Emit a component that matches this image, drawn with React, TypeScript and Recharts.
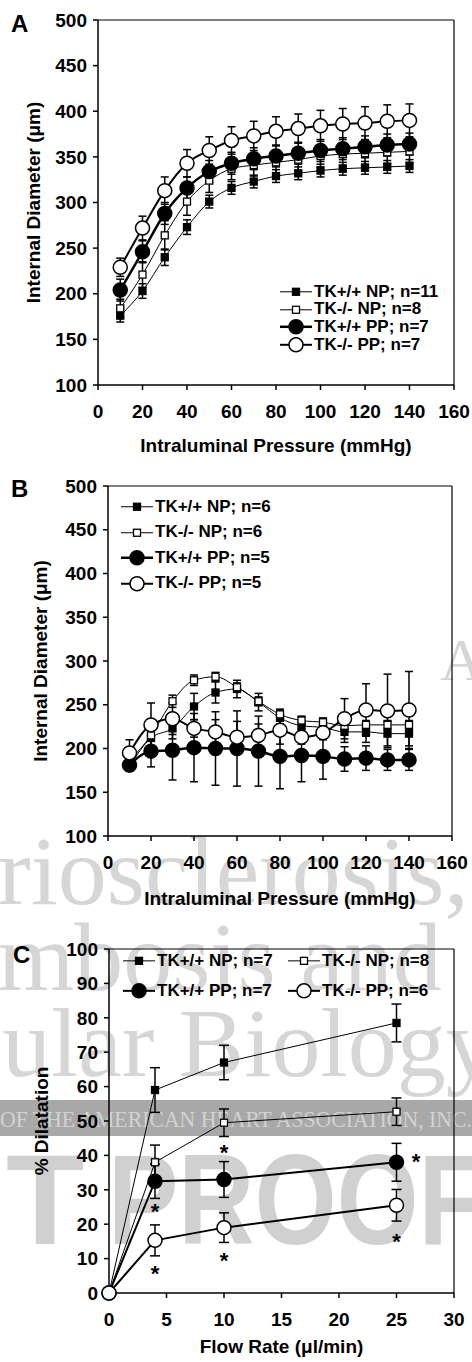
import React from "react";
import { ComposedChart, Line, XAxis, YAxis, ErrorBar, ReferenceLine, Legend, Scatter } from "recharts";

const FONT = '"Liberation Sans", Arial, Helvetica, sans-serif';
const SERIF = '"Liberation Serif", "DejaVu Serif", serif';

// series keys, in legend order: TK+/+ NP, TK-/- NP, TK+/+ PP, TK-/- PP
const keys = ["npWt", "npKo", "ppWt", "ppKo"];
type Mark = "fsq" | "osq" | "fci" | "oci";
const marks: Mark[] = ["fsq", "osq", "fci", "oci"];

// ---- Panel A ----
const pressureA = [10, 20, 30, 40, 50, 60, 70, 80, 90, 100, 110, 120, 130, 140];
const aNpWt = [176, 203, 240, 273, 301, 316, 323, 329, 332, 335, 337, 338, 339, 340];
const aNpWtErr = [7, 8, 9, 8, 7, 7, 7, 7, 7, 7, 7, 7, 7, 7];
const aNpKo = [184, 221, 264, 301, 324, 337, 341, 344, 347, 351, 353, 354, 355, 356];
const aNpKoErr = [10, 14, 16, 15, 13, 12, 12, 12, 12, 12, 12, 12, 12, 12];
const aPpWt = [204, 246, 288, 316, 334, 343, 348, 351, 354, 357, 359, 361, 363, 364];
const aPpWtErr = [12, 12, 12, 12, 12, 12, 12, 12, 12, 12, 12, 12, 12, 12];
const aPpKo = [229, 272, 313, 343, 357, 368, 373, 378, 381, 384, 386, 387, 389, 390];
const aPpKoErr = [10, 13, 15, 15, 15, 15, 16, 16, 16, 17, 17, 18, 18, 18];
const legendA = ["TK+/+ NP; n=11", "TK-/- NP; n=8", "TK+/+ PP; n=7", "TK-/- PP; n=7"];

// ---- Panel B ----
const pressureB = [10, 20, 30, 40, 50, 60, 70, 80, 90, 100, 110, 120, 130, 140];
const bNpWt = [180, 212, 223, 248, 264, 268, 253, 235, 226, 224, 219, 219, 217, 217];
const bNpWtErr = [6, 10, 12, 15, 12, 10, 10, 10, 10, 10, 12, 12, 14, 14];
const bNpKo = [186, 215, 254, 278, 282, 270, 254, 239, 232, 230, 226, 227, 227, 227];
const bNpKoErr = [6, 6, 7, 6, 5, 5, 5, 5, 5, 5, 5, 5, 5, 5];
const bPpWt = [181, 197, 198, 201, 200, 200, 197, 191, 192, 191, 188, 189, 187, 187];
const bPpWtErr = [6, 18, 34, 39, 42, 43, 40, 37, 30, 26, 14, 14, 12, 12];
const bPpKo = [195, 227, 234, 223, 219, 213, 215, 221, 213, 218, 234, 244, 243, 244];
const bPpKoErr = [15, 25, 18, 10, 14, 18, 13, 16, 8, 8, 23, 30, 42, 44];
const legendB = ["TK+/+ NP; n=6", "TK-/- NP; n=6", "TK+/+ PP; n=5", "TK-/- PP; n=5"];

const pressureTicks = [0, 20, 40, 60, 80, 100, 120, 140, 160];
const diameterTicks = [100, 150, 200, 250, 300, 350, 400, 450, 500];

// ---- Panel C ----
const flowC = [0, 4, 10, 25];
const cNpWt = [0, 59, 67, 78.5];
const cNpWtErr = [0, 6.5, 5, 5.5];
const cNpKo = [0, 38, 49.5, 52.7];
const cNpKoErr = [0, 5, 4, 4];
const cPpWt = [0, 32.5, 33, 38];
const cPpWtErr = [0, 5, 5.2, 5.5];
const cPpKo = [0, 15.3, 19, 25.5];
const cPpKoErr = [0, 4.5, 4.3, 4.6];
const legendC = ["TK+/+ NP; n=7", "TK-/- NP; n=8", "TK+/+ PP; n=7", "TK-/- PP; n=6"];
const starX = [4, 4, 10, 10, 26.7, 25];
const starY = [24.8, 6.6, 42, 10.5, 39.3, 16.1];

const flowTicks = [0, 5, 10, 15, 20, 25, 30];
const dilatationTicks = [0, 10, 20, 30, 40, 50, 60, 70, 80, 90, 100];

function buildRows(x: number[], series: number[][], errs: number[][]) {
  return x.map((v, i) => {
    const row: Record<string, number> = { x: v };
    keys.forEach((k, j) => {
      row[k] = series[j][i];
      row[k + "E"] = errs[j][i];
    });
    return row;
  });
}

const rowsA = buildRows(pressureA, [aNpWt, aNpKo, aPpWt, aPpKo], [aNpWtErr, aNpKoErr, aPpWtErr, aPpKoErr]);
const rowsB = buildRows(pressureB, [bNpWt, bNpKo, bPpWt, bPpKo], [bNpWtErr, bNpKoErr, bPpWtErr, bPpKoErr]);
const rowsC = buildRows(flowC, [cNpWt, cNpKo, cPpWt, cPpKo], [cNpWtErr, cNpKoErr, cPpWtErr, cPpKoErr]);
const starRows = starX.map((x, i) => ({ x, y: starY[i] }));

interface MarkStyle {
  sq: number;
  r: number;
  widths: number[];
  curve: "monotone" | "linear";
  cap: number;
}

function Marker({ cx, cy, mark, st }: { cx?: number; cy?: number; mark: Mark; st: MarkStyle }) {
  if (cx == null || cy == null) return null;
  if (mark === "fsq" || mark === "osq") {
    return (
      <rect x={cx - st.sq / 2} y={cy - st.sq / 2} width={st.sq} height={st.sq}
        fill={mark === "fsq" ? "#000" : "#fff"} stroke="#000" strokeWidth={1.3} />
    );
  }
  return <circle cx={cx} cy={cy} r={st.r} fill={mark === "fci" ? "#000" : "#fff"} stroke="#000" strokeWidth={1.5} />;
}

const tickStyle = { fill: "#000", fontSize: 19, fontWeight: 700, fontFamily: FONT };
const axisStroke = { stroke: "#000", strokeWidth: 1.5 };
const titleStyle = { fill: "#000", fontSize: 19, fontWeight: 700, fontFamily: FONT };

function makeLegend(st: MarkStyle, rowH: number, cols: string) {
  return (props: any) => {
    const payload = (props.payload || [])
      .filter((p: any) => keys.includes(p.dataKey))
      .sort((a: any, b: any) => keys.indexOf(a.dataKey) - keys.indexOf(b.dataKey));
    return (
      <div style={{ display: "grid", gridTemplateColumns: cols }}>
        {payload.map((p: any, i: number) => {
          const j = keys.indexOf(p.dataKey);
          return (
            <div key={i} style={{ display: "flex", alignItems: "center", height: rowH }}>
              <svg width={34} height={rowH} style={{ flex: "none" }}>
                <line x1={1} x2={33} y1={rowH / 2} y2={rowH / 2} stroke="#000" strokeWidth={st.widths[j]} />
                <Marker cx={17} cy={rowH / 2} mark={marks[j]} st={st} />
              </svg>
              <span style={{ fontFamily: FONT, fontWeight: 700, fontSize: 17, color: "#000", whiteSpace: "nowrap", marginLeft: 1 }}>
                {p.value}
              </span>
            </div>
          );
        })}
      </div>
    );
  };
}

interface PanelProps {
  top: number;
  height: number;
  margin: { top: number; right: number; bottom: number; left: number };
  xAxisHeight: number;
  rows: Record<string, number>[];
  names: string[];
  xDomain: [number, number];
  xTicks: number[];
  yDomain: [number, number];
  yTicks: number[];
  xTitle: string;
  yTitle: string;
  xTitleOffset: number;
  yTitleOffset: number;
  st: MarkStyle;
  legendPos: { left: number; top: number; width: number };
  legendRowH: number;
  legendCols: string;
  stars?: { x: number; y: number }[];
}

function Panel(p: PanelProps) {
  return (
    <div style={{ position: "absolute", left: 0, top: p.top }}>
      <ComposedChart width={472} height={p.height} data={p.rows} margin={p.margin}>
        <XAxis type="number" dataKey="x" domain={p.xDomain} ticks={p.xTicks} interval={0}
          height={p.xAxisHeight} tickSize={5} tickMargin={15}
          axisLine={axisStroke} tickLine={axisStroke} tick={tickStyle}
          label={{ value: p.xTitle, position: "insideBottom", offset: p.xTitleOffset, ...titleStyle }} />
        <YAxis type="number" domain={p.yDomain} ticks={p.yTicks} interval={0} width={60}
          tickSize={5} tickMargin={6} axisLine={axisStroke} tickLine={axisStroke} tick={tickStyle}
          label={{ value: p.yTitle, angle: -90, position: "insideLeft", offset: p.yTitleOffset, ...titleStyle, style: { textAnchor: "middle" } }} />
        <ReferenceLine y={p.yDomain[1]} stroke="#000" strokeWidth={1.2} />
        <ReferenceLine x={p.xDomain[1]} stroke="#000" strokeWidth={1.2} />
        {keys.map((k, j) => (
          <Line key={k} dataKey={k} name={p.names[j]} type={p.st.curve} stroke="#000"
            strokeWidth={p.st.widths[j]} activeDot={false} isAnimationActive={false}
            dot={(d: any) => <Marker key={`${k}-${d.index}`} cx={d.cx} cy={d.cy} mark={marks[j]} st={p.st} />}>
            <ErrorBar dataKey={k + "E"} width={p.st.cap} strokeWidth={1.5} stroke="#000" direction="y" isAnimationActive={false} />
          </Line>
        ))}
        {p.stars && (
          <Scatter data={p.stars} dataKey="y" legendType="none" isAnimationActive={false}
            shape={(s: any) => (
              <text x={s.cx} y={s.cy + 11} textAnchor="middle" fontSize={22} fontWeight={700} fontFamily={FONT} fill="#000">*</text>
            )} />
        )}
        <Legend verticalAlign="middle" align="center"
          wrapperStyle={{ left: p.legendPos.left, top: p.legendPos.top, width: p.legendPos.width }}
          content={makeLegend(p.st, p.legendRowH, p.legendCols)} />
      </ComposedChart>
    </div>
  );
}

const styleA: MarkStyle = { sq: 7, r: 7, widths: [1, 1, 2.5, 2], curve: "monotone", cap: 4 };
const styleB: MarkStyle = { sq: 7, r: 7, widths: [1, 1, 2.5, 2], curve: "monotone", cap: 4 };
const styleC: MarkStyle = { sq: 7, r: 7, widths: [1, 1, 2, 2], curve: "linear", cap: 5 };

// faint scan watermark behind the panels, plus the panel letters
function Watermark() {
  const g = "#d6d6d6";
  return (
    <svg width={472} height={1362} style={{ position: "absolute", left: 0, top: 0 }}>
      <text x={440} y={680} fontFamily={SERIF} fontSize={60} fill={g}>A</text>
      <text x={-2} y={904} fontFamily={SERIF} fontSize={98} fill={g}>riosclerosis,</text>
      <text x={-2} y={990} fontFamily={SERIF} fontSize={98} fill={g}>mbosis and</text>
      <text x={2} y={1076} fontFamily={SERIF} fontSize={98} fill={g}>ular Biology</text>
      <rect x={0} y={1100} width={472} height={36} fill="#a8a8a8" />
      <text x={0} y={1127} fontFamily={SERIF} fontSize={24} fill="#d2d2d2" textLength={472} lengthAdjust="spacingAndGlyphs">
        OF THE AMERICAN HEART ASSOCIATION, INC.
      </text>
      <text x={6} y={1244} fontFamily={FONT} fontWeight={700} fontSize={128} fill="#d0d0d0">T</text>
      <text x={108} y={1244} fontFamily={FONT} fontWeight={700} fontSize={128} fill="#d0d0d0" textLength={375} lengthAdjust="spacingAndGlyphs">PROOF</text>
      <text x={11} y={32} fontFamily={FONT} fontWeight={700} fontSize={24} fill="#000">A</text>
      <text x={11} y={497} fontFamily={FONT} fontWeight={700} fontSize={24} fill="#000">B</text>
      <text x={13} y={963} fontFamily={FONT} fontWeight={700} fontSize={24} fill="#000">C</text>
    </svg>
  );
}

export default function App() {
  return (
    <div style={{ position: "absolute", left: 0, top: 0, width: 472, height: 1362, overflow: "hidden", background: "#fff" }}>
      <Watermark />
      <Panel top={0} height={470} margin={{ top: 20, right: 18, bottom: 15, left: 38 }} xAxisHeight={70}
        rows={rowsA} names={legendA} xDomain={[0, 160]} xTicks={pressureTicks} yDomain={[100, 500]} yTicks={diameterTicks}
        xTitle="Intraluminal Pressure (mmHg)" yTitle="Internal Diameter (μm)" xTitleOffset={3} yTitleOffset={-5}
        st={styleA} legendPos={{ left: 279, top: 283, width: 190 }} legendRowH={17.6} legendCols="1fr" />
      <Panel top={466} height={450} margin={{ top: 20, right: 20, bottom: 10, left: 48 }} xAxisHeight={70}
        rows={rowsB} names={legendB} xDomain={[0, 160]} xTicks={pressureTicks} yDomain={[100, 500]} yTicks={diameterTicks}
        xTitle="Intraluminal Pressure (mmHg)" yTitle="Internal Diameter (μm)" xTitleOffset={1} yTitleOffset={-8}
        st={styleB} legendPos={{ left: 120, top: 28, width: 200 }} legendRowH={25.5} legendCols="1fr" />
      <Panel top={929} height={433} margin={{ top: 20, right: 18, bottom: 7, left: 49 }} xAxisHeight={62}
        rows={rowsC} names={legendC} xDomain={[0, 30]} xTicks={flowTicks} yDomain={[0, 100]} yTicks={dilatationTicks}
        xTitle="Flow Rate (μl/min)" yTitle="% Dilatation" xTitleOffset={2} yTitleOffset={-8}
        st={styleC} legendPos={{ left: 122, top: 17, width: 330 }} legendRowH={29.7} legendCols="165px 165px"
        stars={starRows} />
    </div>
  );
}
